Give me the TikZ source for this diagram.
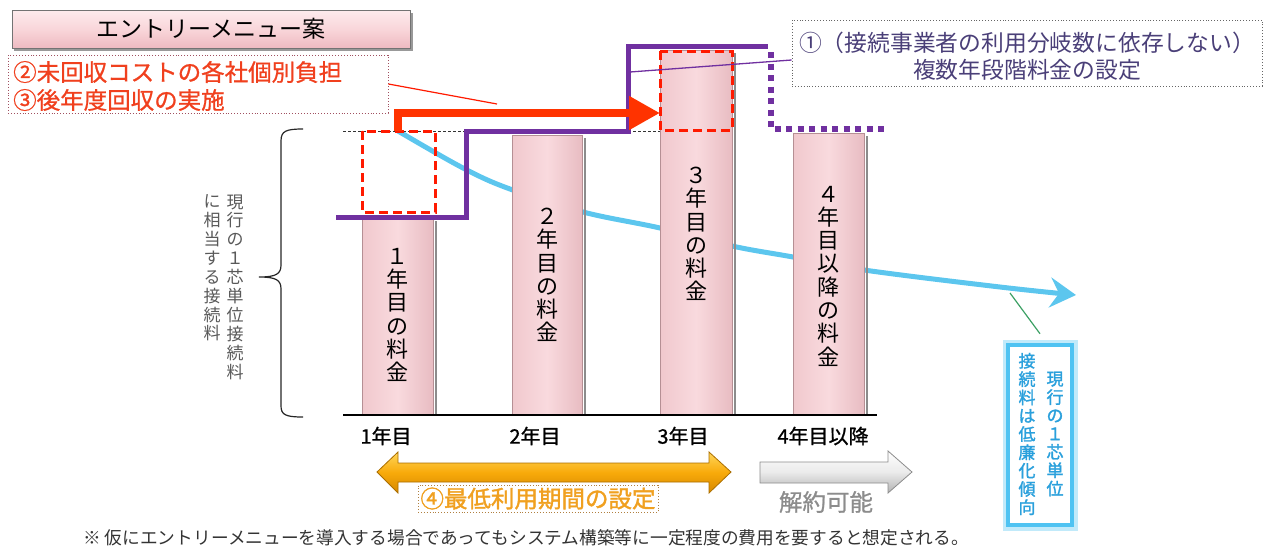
\documentclass[tikz,border=0pt]{standalone}
\usepackage{fontspec}
\setmainfont{Noto Sans CJK JP}
\newfontfamily\medfont{Noto Sans CJK JP}[FakeBold=0.9]
\newfontfamily\semfont{Noto Sans CJK JP}[FakeBold=1.6]
\usetikzlibrary{arrows.meta,calc}
\definecolor{purp}{HTML}{7030A0}
\definecolor{redd}{HTML}{FF1A00}
\definecolor{arrred}{HTML}{FF3300}
\definecolor{sky}{HTML}{5CC6EE}
\definecolor{barM}{HTML}{F9DADE}
\definecolor{barL}{HTML}{F0C8CD}
\definecolor{barR}{HTML}{E8BCC2}
\definecolor{barEdge}{HTML}{B58F94}
\definecolor{redtxt}{HTML}{F0401E}
\definecolor{boxtxt}{HTML}{4A3F78}
\definecolor{orgtxt}{HTML}{F0A020}
\definecolor{bluetxt}{HTML}{2AA0DC}
\definecolor{glow}{HTML}{4FC3F2}
\definecolor{titleT}{HTML}{FDEBED}
\definecolor{titleM}{HTML}{F9D6DA}
\definecolor{titleB}{HTML}{EEBAC1}
\definecolor{redframe}{HTML}{A05060}
\definecolor{orgframe}{HTML}{B08040}
\definecolor{leafgreen}{HTML}{3CA064}
\definecolor{orgT}{HTML}{FFD65A}
\definecolor{orgM}{HTML}{F8AA0A}
\definecolor{orgB}{HTML}{D68800}
\definecolor{orgEdge}{HTML}{AA6E00}
\tikzset{
  barshape/.style={draw=barEdge, line width=1pt, left color=barL, right color=barR, middle color=barM},
  barlbl/.style={align=center, inner sep=0pt, font=\fontsize{22}{23.3}\selectfont},
  sidetxt/.style={align=center, inner sep=0pt, text=black!65, font=\fontsize{17}{18.9}\selectfont},
  bluetxtcol/.style={align=center, inner sep=0pt, text=bluetxt, font=\fontsize{17}{18.3}\semfont},
  reddash/.style={draw=redd, line width=3pt, dash pattern=on 9pt off 5pt},
  yearlbl/.style={inner sep=0pt, font=\fontsize{20}{22}\medfont},
  dotframe/.style={draw=#1, line width=0.9pt, dotted},
}
\begin{document}
\begin{tikzpicture}[x=1pt,y=-1pt]
\useasboundingbox (0,0) rectangle (1268,547);
% title
\fill[black!40] (14,13) rectangle (413,51);
\node[draw=black!55, line width=1pt, top color=titleT, bottom color=titleB, middle color=titleM, minimum width=398pt, minimum height=38pt, inner sep=0pt, font=\fontsize{23}{26}\selectfont] (title) at (211,29) {エントリーメニュー案};
% red dotted box
\node[dotframe=redframe, minimum width=380pt, minimum height=58pt, inner sep=0pt] (redbox) at (198,84) {};
\node[anchor=west, inner sep=0pt, text=redtxt, font=\fontsize{23.5}{26}\medfont] (r1) at (13,72) {②未回収コストの各社個別負担};
\node[anchor=west, inner sep=0pt, text=redtxt, font=\fontsize{23.5}{26}\medfont] (r2) at (13,100) {③後年度回収の実施};
\coordinate (rl) at (497,104);
\draw[redd, line width=1.2pt] (redbox.east) -- (rl);
% box 1
\node[dotframe=black!60, minimum width=470pt, minimum height=66pt, inner sep=0pt] (box1) at (1027,53) {};
\node[inner sep=0pt, text=boxtxt, font=\fontsize{22.8}{26}\selectfont] (b1) at (1027,43) {①（接続事業者の利用分岐数に依存しない）};
\node[inner sep=0pt, text=boxtxt, font=\fontsize{22.8}{26}\selectfont] (b2) at (1027,70) {複数年段階料金の設定};
% blue curve (behind bars)
\draw[sky, line width=5pt, -{Stealth[length=26pt, width=30pt, inset=9pt]}] plot[smooth, tension=0.6] coordinates {(398,131) (463,168) (510,189) (583,212) (660,228) (732,246) (793,257) (864,270) (1000,287) (1076,295)};
% bars
\fill[black!45] (435,221) rectangle (437,415);
\fill[black!45] (584,138) rectangle (586,415);
\fill[black!45] (734,53) rectangle (736,415);
\fill[black!45] (866,136) rectangle (868,415);
\path[barshape] (362,218) rectangle (433,415);
\path[barshape] (512,135) rectangle (582,415);
\path[barshape] (660,50) rectangle (732,415);
\path[barshape] (793,133) rectangle (864,415);
\draw[black, line width=1.5pt] (343,415) -- (877,415);
% dashed reference line
\draw[black!80, line width=0.8pt, dash pattern=on 3pt off 2pt] (343,131) -- (660,131);
% bar labels
\node[barlbl] (l1) at (397,315) {１\\年\\目\\の\\料\\金};
\node[barlbl] (l2) at (547,275) {２\\年\\目\\の\\料\\金};
\node[barlbl] (l3) at (696,234) {３\\年\\目\\の\\料\\金};
\node[barlbl] (l4) at (828,276) {４\\年\\目\\以\\降\\の\\料\\金};
% red dashed boxes
\draw[reddash] (362,131) rectangle (435,212);
\draw[reddash] (660,51) rectangle (732,130);
% purple step line
\draw[purp, line width=5pt, line join=miter] (336,217) -- (466,217) -- (466,131) -- (628,131) -- (628,46) -- (768,46);
\draw[purp, line width=6pt, dash pattern=on 6pt off 5.5pt] (771,52) -- (771,129) -- (887,129);
% leader from box 1
\coordinate (pl) at (630,72);
\draw[purp, line width=1.3pt] ($(box1.west)+(0,7)$) -- (pl);
% red arrow
\draw[arrred, line width=8pt, line join=miter, -{Triangle[length=31pt, width=32pt]}] (398,131) -- (398,113) -- (660,113);
% brace
\draw[black!85, line width=1.2pt] (303,129) .. controls (286,129) and (281,131) .. (281,141) -- (281,265) .. controls (281,274) and (276,277) .. (259,277) .. controls (276,277) and (281,280) .. (281,289) -- (281,406) .. controls (281,415) and (286,417) .. (303,417);
\node[sidetxt] (s1) at (235,287) {現\\行\\の\\１\\芯\\単\\位\\接\\続\\料};
\node[sidetxt] (s2) at (212,268) {に\\相\\当\\す\\る\\接\\続\\料};
% blue box
\node[draw=glow!35, line width=11pt, minimum width=64pt, minimum height=180pt, inner sep=0pt] (bboxg) at (1040,435) {};
\node[draw=glow, fill=white, line width=4.5pt, minimum width=64pt, minimum height=180pt, inner sep=0pt] (bbox) at (1040,435) {};
\node[bluetxtcol] (bc1) at (1055,434) {現\\行\\の\\１\\芯\\単\\位};
\node[bluetxtcol] (bc2) at (1027,434) {接\\続\\料\\は\\低\\廉\\化\\傾\\向};
\coordinate (gl) at (1010,293);
\draw[leafgreen, line width=1.2pt] ($(bbox.north)+(0,-9)$) -- (gl);
% year labels
\node[yearlbl] (y1) at (386,436) {1年目};
\node[yearlbl] (y2) at (535,436) {2年目};
\node[yearlbl] (y3) at (683,436) {3年目};
\node[yearlbl] (y4) at (823,436) {4年目以降};
% orange double arrow
\path[draw=orgEdge, line width=0.8pt, top color=orgT, bottom color=orgB, middle color=orgM]
  (377,472) -- (398,452) -- (398,463) -- (709,463) -- (709,452) -- (731,472) -- (709,493) -- (709,482) -- (398,482) -- (398,493) -- cycle;
% gray arrow
\path[draw=black!45, line width=0.8pt, top color=white, bottom color=black!30, middle color=black!8]
  (760,462) -- (888,462) -- (888,451) -- (912,472) -- (888,493) -- (888,483) -- (760,483) -- cycle;
\node[dotframe=orgframe, inner sep=2.5pt, minimum height=27pt, text=orgtxt, font=\fontsize{23.5}{26}\semfont] (lab4) at (538,498.5) {④最低利用期間の設定};
\node[inner sep=0pt, text=black!45, font=\fontsize{23.5}{26}\medfont] (cancel) at (826,502) {解約可能};
% footnote
\node[anchor=west, inner sep=0pt, text=black!80, font=\fontsize{17.7}{20}\selectfont] (fn) at (83,538) {※ 仮にエントリーメニューを導入する場合であってもシステム構築等に一定程度の費用を要すると想定される。};
\end{tikzpicture}
\end{document}
